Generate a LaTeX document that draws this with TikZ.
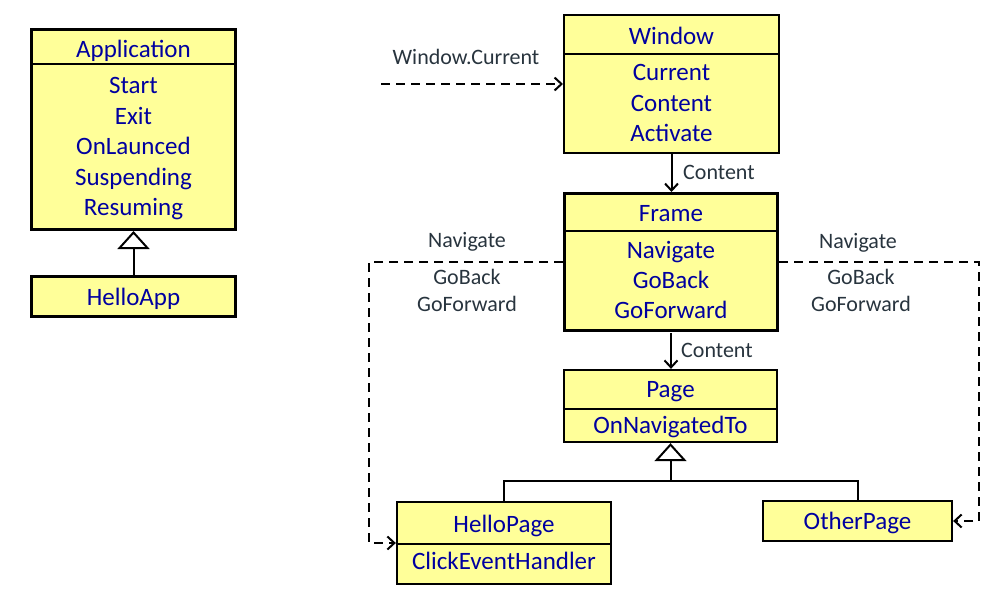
\documentclass[tikz,border=0pt]{standalone}
\usepackage{fontspec}
\setmainfont{Carlito}
\usetikzlibrary{arrows.meta}
\definecolor{boxfill}{RGB}{255,255,153}
\definecolor{boxtext}{RGB}{0,0,160}
\definecolor{lbltext}{RGB}{40,52,62}
\tikzset{
  umlbox/.style={draw=black, fill=boxfill, inner sep=0pt, line width=#1},
  umlbox/.default=2.2pt,
  divider/.style={line width=2pt},
  btext/.style={text=boxtext, font=\fontsize{25}{30}\selectfont, inner sep=0pt, text height=16pt, text depth=0pt},
  ltext/.style={text=lbltext, font=\fontsize{22}{27}\selectfont, inner sep=0pt, text height=14pt, text depth=0pt},
  gen/.style={line width=2pt, -{Triangle[length=18pt,width=32pt,fill=white,line width=2pt]}},
  assoc/.style={line width=2pt, -{Straight Barb[length=7pt,width=13pt,line width=2pt]}},
  dep/.style={line width=2pt, dash pattern=on 9pt off 6pt, -{Straight Barb[length=7pt,width=13pt,line width=2pt]}}
}
\begin{document}
\begin{tikzpicture}[x=1pt,y=-1pt]
\useasboundingbox (0,0) rectangle (1007,595);

% Application
\node[umlbox=3pt, minimum width=204pt, minimum height=200pt] (app) at (133.5,129.5) {};
\draw[divider] (app.west |- 0,64) -- (app.east |- 0,64);
\node[btext] (appT) at (133.5,49) {Application};
\node[btext] (appS) at (133.5,85) {Start};
\node[btext] (appE) at (133.5,116) {Exit};
\node[btext] (appO) at (133.5,146) {OnLaunced};
\node[btext] (appSu) at (133.5,177) {Suspending};
\node[btext] (appR) at (133.5,207.5) {Resuming};

% HelloApp
\node[umlbox=3pt, minimum width=204pt, minimum height=40pt] (helloapp) at (133.5,296.5) {};
\node[btext] (helloappT) at (133.5,297.5) {HelloApp};
\draw[gen] (helloapp.north) -- (app.south);

% Window
\node[umlbox=2pt, minimum width=215pt, minimum height=138pt] (window) at (671.5,84) {};
\draw[divider] (window.west |- 0,54) -- (window.east |- 0,54);
\node[btext] (winT) at (671.5,36) {Window};
\node[btext] (winC) at (671.5,72.5) {Current};
\node[btext] (winCo) at (671.5,103) {Content};
\node[btext] (winA) at (671.5,133) {Activate};

\coordinate (wcstart) at (381,84);
\draw[dep] (wcstart) -- (window.west);
\node[ltext] (wclbl) at (466,57) {Window.Current};

% Frame
\node[umlbox=3pt, minimum width=213pt, minimum height=137pt] (frame) at (671,262) {};
\draw[divider] (frame.west |- 0,231) -- (frame.east |- 0,231);
\node[btext] (frT) at (671,213) {Frame};
\node[btext] (frN) at (671,250) {Navigate};
\node[btext] (frB) at (671,280) {GoBack};
\node[btext] (frF) at (671,310) {GoForward};

\draw[assoc] (window.south) -- (window.south |- frame.north);
\node[ltext, anchor=west] (c1lbl) at (683,172) {Content};

% Page
\node[umlbox=2.3pt, minimum width=213pt, minimum height=72pt] (page) at (670.5,406) {};
\draw[divider] (page.west |- 0,409) -- (page.east |- 0,409);
\node[btext] (pgT) at (670.5,389) {Page};
\node[btext] (pgO) at (670.5,425.5) {OnNavigatedTo};

\draw[assoc] (frame.south |- 0,333) -- (frame.south |- page.north);
\node[ltext, anchor=west] (c2lbl) at (681,350) {Content};

% HelloPage
\node[umlbox=2.3pt, minimum width=214pt, minimum height=82pt] (hellopage) at (504,543) {};
\draw[divider] (hellopage.west |- 0,544) -- (hellopage.east |- 0,544);
\node[btext] (hpT) at (504,524.5) {HelloPage};
\node[btext] (hpC) at (504,561.5) {ClickEventHandler};

% OtherPage
\node[umlbox=2.3pt, minimum width=189pt, minimum height=40pt] (otherpage) at (857.5,521) {};
\node[btext] (opT) at (857.5,521) {OtherPage};

% inheritance to Page
\coordinate (junc) at (670.5,481);
\draw[line width=2pt] (hellopage.north) |- (junc) -| (otherpage.north);
\draw[gen] (junc) -- (page.south);

% navigation dependencies
\coordinate (lx) at (369,262);
\coordinate (rx) at (979,262);
\draw[dep] (frame.west) -- (lx) |- (hellopage.west);
\draw[dep] (frame.east) -- (rx) |- (otherpage.east);

\node[ltext] (lnav) at (467,240) {Navigate};
\node[ltext] (lback) at (467,277) {GoBack};
\node[ltext] (lfwd) at (467,304) {GoForward};
\node[ltext] (rnav) at (858,241) {Navigate};
\node[ltext] (rback) at (861,277) {GoBack};
\node[ltext] (rfwd) at (861,304) {GoForward};
\end{tikzpicture}
\end{document}
